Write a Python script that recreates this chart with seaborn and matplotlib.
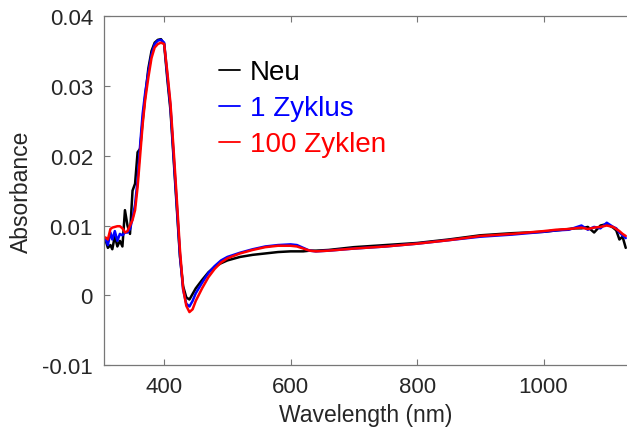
import matplotlib
matplotlib.use("Agg")
import matplotlib.pyplot as plt
import seaborn as sns
import pandas as pd

# wavelength grid (nm) and absorbance of the three samples
wavelength = [307, 311, 315, 318, 322, 326, 330, 334, 338, 342, 346, 350, 354, 358,
              362, 366, 370, 375, 380, 385, 390, 395, 400, 405, 410, 415, 420, 425,
              430, 435, 440, 445, 450, 460, 470, 480, 490, 500, 520, 540, 560, 580,
              600, 610, 620, 630, 640, 660, 700, 750, 800, 850, 900, 950, 1000, 1020,
              1040, 1050, 1060, 1070, 1080, 1090, 1100, 1110, 1115, 1120, 1125, 1130]

neu = [0.0080, 0.0068, 0.0072, 0.0066, 0.0085, 0.0070, 0.0078, 0.0070, 0.0122, 0.0100,
       0.0088, 0.0150, 0.0160, 0.0205, 0.0210, 0.0250, 0.0285, 0.0325, 0.0350, 0.0362,
       0.0366, 0.0367, 0.0360, 0.0310, 0.0265, 0.0195, 0.0125, 0.0055, 0.0013, -0.0003,
       -0.0006, 0.0002, 0.0010, 0.0022, 0.0033, 0.0041, 0.0046, 0.0050, 0.0055, 0.0058,
       0.0060, 0.0062, 0.0063, 0.0063, 0.0063, 0.0064, 0.0064, 0.0065, 0.0069, 0.0072,
       0.0075, 0.0080, 0.0086, 0.0089, 0.0091, 0.0093, 0.0095, 0.0096, 0.0096, 0.0098,
       0.0090, 0.0100, 0.0102, 0.0097, 0.0093, 0.0080, 0.0084, 0.0068]

zyklus_1 = [0.0082, 0.0072, 0.0090, 0.0080, 0.0092, 0.0078, 0.0088, 0.0086, 0.0090, 0.0090,
            0.0095, 0.0110, 0.0130, 0.0165, 0.0215, 0.0260, 0.0290, 0.0320, 0.0345, 0.0360,
            0.0365, 0.0366, 0.0362, 0.0315, 0.0270, 0.0200, 0.0130, 0.0058, 0.0008, -0.0012,
            -0.0016, -0.0008, 0.0003, 0.0018, 0.0032, 0.0042, 0.0050, 0.0055, 0.0061, 0.0066,
            0.0070, 0.0072, 0.0073, 0.0072, 0.0068, 0.0064, 0.0063, 0.0064, 0.0067, 0.0070,
            0.0074, 0.0079, 0.0084, 0.0087, 0.0091, 0.0093, 0.0094, 0.0097, 0.0100, 0.0094,
            0.0098, 0.0096, 0.0104, 0.0098, 0.0096, 0.0090, 0.0086, 0.0082]

zyklen_100 = [0.0083, 0.0080, 0.0095, 0.0097, 0.0098, 0.0099, 0.0099, 0.0096, 0.0090, 0.0092,
              0.0100, 0.0108, 0.0122, 0.0155, 0.0200, 0.0245, 0.0280, 0.0312, 0.0340, 0.0355,
              0.0360, 0.0362, 0.0360, 0.0320, 0.0275, 0.0208, 0.0138, 0.0065, 0.0010, -0.0015,
              -0.0024, -0.0020, -0.0008, 0.0010, 0.0026, 0.0038, 0.0047, 0.0053, 0.0060, 0.0065,
              0.0069, 0.0071, 0.0071, 0.0070, 0.0067, 0.0064, 0.0063, 0.0064, 0.0067, 0.0070,
              0.0074, 0.0079, 0.0085, 0.0088, 0.0092, 0.0094, 0.0095, 0.0096, 0.0097, 0.0095,
              0.0097, 0.0098, 0.0100, 0.0098, 0.0095, 0.0092, 0.0088, 0.0085]

labels = ["Neu", "1 Zyklus", "100 Zyklen"]
colors = ["black", "blue", "red"]

df = pd.concat([
    pd.DataFrame({"wl": wavelength, "abs": vals, "sample": lab})
    for vals, lab in zip([neu, zyklus_1, zyklen_100], labels)
])

sns.set_style("ticks")
plt.rcParams["font.family"] = ["Liberation Sans", "DejaVu Sans"]

fig = plt.figure(figsize=(6.27, 4.39), dpi=100)
ax = fig.add_axes([0.166, 0.166, 0.834, 0.795])

sns.lineplot(data=df, x="wl", y="abs", hue="sample", hue_order=labels,
             palette=colors, linewidth=1.8, ax=ax, legend=True)

ax.set_xlim(305, 1132)
ax.set_ylim(-0.01, 0.04)
ax.set_xticks([400, 600, 800, 1000])
ax.set_yticks([-0.01, 0, 0.01, 0.02, 0.03, 0.04])
ax.set_yticklabels(["-0.01", "0", "0.01", "0.02", "0.03", "0.04"])

ax.set_xlabel("Wavelength (nm)", fontsize=16.5, color="#262626", labelpad=4)
ax.set_ylabel("Absorbance", fontsize=16.5, color="#262626", labelpad=7)
ax.tick_params(axis="both", direction="in", length=4, width=0.8, color="#777777",
               labelsize=16, labelcolor="#262626", top=True, pad=8)
for side in ["left", "bottom", "top"]:
    ax.spines[side].set_color("#777777")
    ax.spines[side].set_linewidth(0.9)
ax.spines["right"].set_visible(False)

leg = ax.legend(loc="upper left", bbox_to_anchor=(0.172, 0.948), frameon=False,
                fontsize=20, handlelength=0.75, handletextpad=0.35,
                labelspacing=0.36, labelcolor="linecolor")
for h in leg.get_lines():
    h.set_linewidth(1.3)

fig.savefig("out.png", dpi=100)
